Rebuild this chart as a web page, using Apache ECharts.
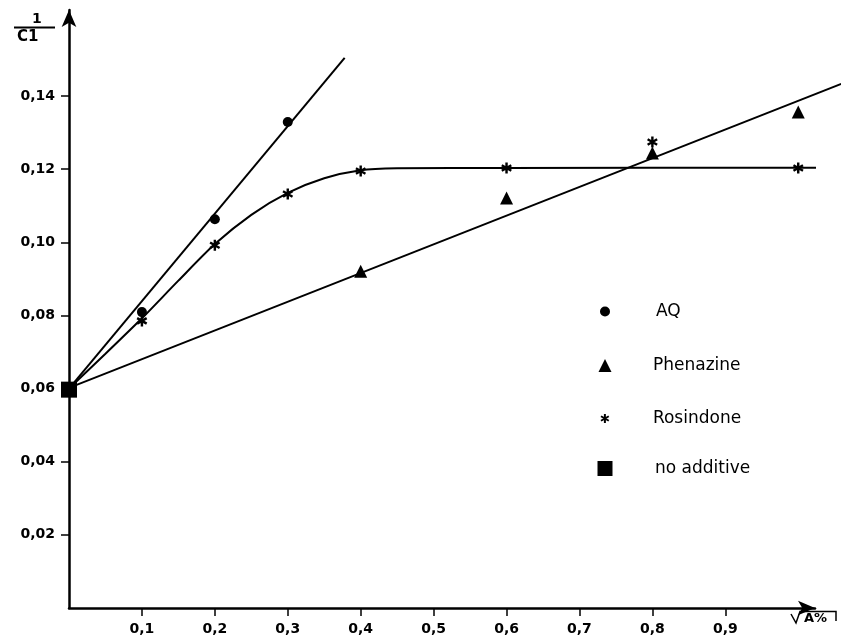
<!DOCTYPE html>
<html>
<head>
<meta charset="utf-8">
<script src="https://cdn.jsdelivr.net/npm/echarts@6/dist/echarts.min.js"></script>
<style>html,body{margin:0;padding:0;background:#fff}#c{width:841px;height:636px}</style>
</head>
<body>
<div id="c"></div>
<script>
// ---- data ----
const xTicks = [0.1, 0.2, 0.3, 0.4, 0.5, 0.6, 0.7, 0.8, 0.9];
const yTicks = [0.02, 0.04, 0.06, 0.08, 0.10, 0.12, 0.14];

const aqX = [0.1, 0.2, 0.3];
const aqY = [0.0809, 0.1063, 0.1329];

const phenX = [0.4, 0.6, 0.8, 1.0];
const phenY = [0.0921, 0.1121, 0.1244, 0.1356];

const rosX = [0.1, 0.2, 0.3, 0.4, 0.6, 0.8, 1.0];
const rosY = [0.0785, 0.0992, 0.1132, 0.1195, 0.1203, 0.1274, 0.1203];

const noAddX = [0];
const noAddY = [0.0597];

// fitted lines / curve as drawn in the figure
const aqFitX = [0, 0.378];
const aqFitY = [0.06, 0.1504];
const phenFitX = [0, 1.059];
const phenFitY = [0.0602, 0.1433];
const rosFitX = [0, 0.05, 0.1, 0.15, 0.2, 0.25, 0.3, 0.35, 0.4, 0.45, 0.6, 1.025];
const rosFitY = [0.06, 0.0695, 0.0792, 0.0895, 0.0995, 0.1075, 0.1135, 0.1175, 0.1197, 0.1202, 0.1203, 0.1204];

const pairs = (xs, ys) => xs.map((x, i) => [x, ys[i]]);

const starPath = 'path://M-1.1,5 L1.1,5 L1.1,-5 L-1.1,-5 Z M3.78,3.45 L4.88,1.55 L-3.78,-3.45 L-4.88,-1.55 Z M-4.88,1.55 L-3.78,3.45 L4.88,-1.55 L3.78,-3.45 Z';

const X_MAX = 1.023, Y_MAX = 0.1635;
const GRID = {left: 69, right: 26, top: 10, bottom: 28};
// a second, invisible grid with identical scale but reaching the right edge,
// so the Phenazine fit line can run past the axis arrow as in the figure
const X_MAX_WIDE = (841 - 69) / ((841 - 69 - 26) / X_MAX);

const chart = echarts.init(document.getElementById('c'), null, {renderer: 'canvas'});
const labelFont = {fontFamily: 'DejaVu Sans', fontWeight: 'bold', fontSize: 14, color: '#000'};

function legendAt(name, icon, size, centerY, textLeft) {
  return {
    data: [{name: name, icon: icon}],
    orient: 'vertical',
    left: 605 - size / 2,
    top: centerY - 10,
    padding: 0,
    itemWidth: size,
    itemHeight: size,
    itemGap: 0,
    selectedMode: false,
    itemStyle: {opacity: 1, color: '#000'},
    textStyle: {fontFamily: 'DejaVu Sans', fontSize: 17, color: '#000',
      padding: [0, 0, 0, textLeft - (605 + size / 2 + 5)]}
  };
}

const blackLine = {color: '#000', width: 2};
const blackItem = {color: '#000', opacity: 1};

chart.setOption({
  animation: false,
  backgroundColor: '#fff',
  grid: [
    Object.assign({containLabel: false}, GRID),
    {left: 69, right: 0, top: 10, bottom: 28, containLabel: false}
  ],
  xAxis: [{
    type: 'value', min: 0, max: X_MAX, gridIndex: 0,
    splitLine: {show: false},
    axisLine: {show: true, onZero: true, lineStyle: {color: '#000', width: 2.5},
      symbol: ['none', 'arrow'], symbolSize: [11, 17]},
    axisTick: {show: true, customValues: xTicks, length: 8, lineStyle: {color: '#000', width: 1.5}},
    axisLabel: Object.assign({customValues: xTicks, margin: 14,
      formatter: v => v.toFixed(1).replace('.', ',')}, labelFont)
  }, {
    type: 'value', min: 0, max: X_MAX_WIDE, gridIndex: 1, show: false
  }],
  yAxis: [{
    type: 'value', min: 0, max: Y_MAX, gridIndex: 0,
    splitLine: {show: false},
    axisLine: {show: true, lineStyle: {color: '#000', width: 2.5},
      symbol: ['none', 'arrow'], symbolSize: [11, 17]},
    axisTick: {show: true, customValues: yTicks, length: 8, lineStyle: {color: '#000', width: 1.5}},
    axisLabel: Object.assign({customValues: yTicks, margin: 14,
      formatter: v => v.toFixed(2).replace('.', ',')}, labelFont)
  }, {
    type: 'value', min: 0, max: Y_MAX, gridIndex: 1, show: false
  }],
  legend: [
    legendAt('AQ', 'circle', 10, 313, 656),
    legendAt('Phenazine', 'triangle', 13, 367, 653),
    legendAt('Rosindone', starPath, 9, 420, 653),
    legendAt('no additive', 'rect', 15, 470, 655)
  ],
  graphic: [
    {type: 'text', left: 32, top: 12, style: {text: '1', font: 'bold 14px "DejaVu Sans"', fill: '#000'}},
    {type: 'line', shape: {x1: 14, y1: 27.5, x2: 55, y2: 27.5}, style: {stroke: '#000', lineWidth: 2}},
    {type: 'text', left: 17, top: 30, style: {text: 'C1', font: 'bold 15px "DejaVu Sans"', fill: '#000'}},
    {type: 'polyline', shape: {points: [[791, 614], [796, 623], [800, 611.5], [836, 611.5], [836, 621]]},
      style: {stroke: '#000', lineWidth: 1.5, fill: null}},
    {type: 'text', left: 804, top: 612, style: {text: 'A%', font: 'bold 13px "DejaVu Sans"', fill: '#000'}}
  ],
  series: [
    {name: 'AQ fit', type: 'line', data: pairs(aqFitX, aqFitY), showSymbol: false, clip: false,
      lineStyle: blackLine, z: 2, silent: true},
    {name: 'Phenazine fit', type: 'line', xAxisIndex: 1, yAxisIndex: 1,
      data: pairs(phenFitX, phenFitY), showSymbol: false, clip: true,
      lineStyle: blackLine, z: 2, silent: true},
    {name: 'Rosindone fit', type: 'line', data: pairs(rosFitX, rosFitY), showSymbol: false, clip: false,
      smooth: 0.25, lineStyle: blackLine, z: 2, silent: true},
    {name: 'AQ', type: 'scatter', data: pairs(aqX, aqY), symbol: 'circle', symbolSize: 10,
      itemStyle: blackItem, z: 3, clip: false},
    {name: 'Phenazine', type: 'scatter', data: pairs(phenX, phenY), symbol: 'triangle', symbolSize: 13,
      itemStyle: blackItem, z: 3, clip: false},
    {name: 'Rosindone', type: 'scatter', data: pairs(rosX, rosY), symbol: starPath, symbolSize: 11,
      symbolKeepAspect: true, itemStyle: blackItem, z: 3, clip: false},
    {name: 'no additive', type: 'scatter', data: pairs(noAddX, noAddY), symbol: 'rect', symbolSize: 16,
      itemStyle: blackItem, z: 4, clip: false}
  ]
});
</script>
</body>
</html>
